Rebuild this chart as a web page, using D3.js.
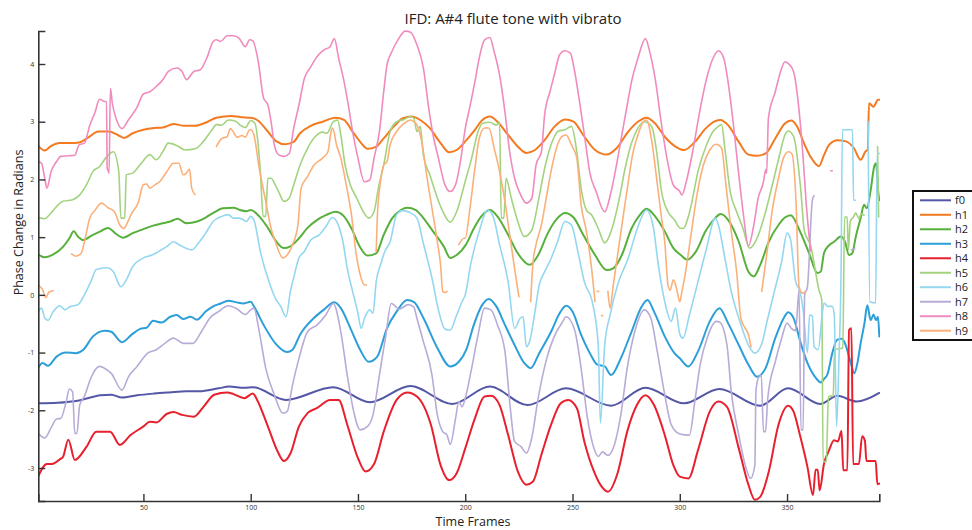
<!DOCTYPE html>
<html>
<head>
<meta charset="utf-8">
<script src="https://cdn.jsdelivr.net/npm/d3@7"></script>
<style>
  body { margin: 0; background: #fff; }
  svg { display: block; }
</style>
</head>
<body>
<svg id="chart" width="972" height="530"></svg>
<script>
// Instantaneous frequency deviation per partial, [frame, radians]; null marks a gap.
const seriesNames = ["f0", "h1", "h2", "h3", "h4", "h5", "h6", "h7", "h8", "h9"];
const seriesColors = ["#5456a6", "#f37a21", "#57b03c", "#2c9fd9", "#e8202e",
                      "#a3d37f", "#94d7f1", "#b8abd7", "#f08bbd", "#fbb07a"];

const f0 = [[1,-1.88],[10,-1.87],[20,-1.83],[30,-1.74],[35,-1.73],[40,-1.78],[47,-1.74],[55,-1.71],[62,-1.69],[70,-1.67],[76,-1.67],[85,-1.62],[90,-1.59],[97,-1.61],[101,-1.60],[116.5,-1.82],[138.5,-1.60],[155.5,-1.86],[174.5,-1.58],[194,-1.89],[211.5,-1.59],[229,-1.91],[247,-1.62],[268,-1.92],[284,-1.61],[302,-1.88],[318.5,-1.63],[337.5,-1.92],[350.5,-1.62],[365.5,-1.89],[373.5,-1.75],[382.5,-1.85],[393,-1.70]];

const h1 = [[1,2.58],[4,2.50],[7,2.58],[11,2.63],[16,2.63],[20,2.64],[24,2.72],[29,2.83],[34,2.83],[38,2.77],[41,2.72],[45,2.80],[50,2.86],[55,2.89],[59,2.90],[64,2.96],[69,2.93],[74,2.93],[80,3.00],[84,3.07],[91,3.10],[95,3.08],[100,3.07],[103,3.03],[108,2.83],[112,2.66],[116,2.61],[120,2.65],[123,2.80],[128,2.93],[133.5,3.00],[139.5,3.07],[143.5,3.03],[147.5,2.83],[151.5,2.63],[154.5,2.53],[158.5,2.57],[162,2.71],[166.5,2.91],[171,3.06],[175,3.09],[179,3.03],[183.5,2.89],[188.5,2.63],[192.5,2.47],[196,2.51],[200.5,2.68],[204.5,2.86],[208,3.03],[211.5,3.09],[215,3.00],[220,2.77],[224.5,2.57],[228.5,2.46],[232.5,2.51],[237,2.68],[241.5,2.91],[246.5,3.04],[250.5,3.00],[255,2.77],[260.5,2.51],[266,2.43],[270.5,2.54],[276,2.83],[280.5,3.00],[284.5,3.07],[288.5,2.97],[293,2.74],[298,2.57],[302,2.51],[307,2.65],[312,2.88],[316.5,3.01],[319,3.03],[322.5,2.94],[327.5,2.65],[332,2.43],[336,2.41],[340,2.45],[344.5,2.71],[349,2.97],[352,3.02],[354.5,2.93],[358,2.62],[361,2.39],[364.9,2.23],[367.2,2.42],[369.6,2.60],[373.5,2.68],[377.4,2.66],[381.2,2.54],[384.3,2.34],[386.5,2.48],[387.6,2.52],[388.2,3.32],[390.3,3.26],[392.4,3.38],[393,3.38]];

const h2 = [[1,0.70],[4,0.65],[8,0.70],[12.5,0.83],[15.5,0.98],[17.5,1.10],[19.5,1.01],[22,0.95],[26,1.03],[30,1.10],[33.5,1.16],[37.5,1.05],[40.5,0.99],[45,1.07],[50,1.14],[54.5,1.20],[59,1.24],[62.5,1.27],[66,1.32],[70,1.24],[75,1.27],[79,1.34],[83,1.43],[87,1.50],[92,1.51],[95,1.47],[98,1.45],[100,1.47],[104,1.36],[108,1.16],[112,0.92],[115.5,0.81],[118.5,0.84],[122.5,0.98],[126.5,1.16],[131,1.30],[135,1.38],[139.5,1.44],[143,1.38],[147,1.15],[150.5,0.86],[154.5,0.68],[158.5,0.72],[162,1.04],[166,1.33],[170,1.47],[173,1.51],[177,1.47],[180.5,1.33],[185,1.10],[190,0.84],[193,0.64],[196,0.69],[200.5,0.88],[204,1.15],[207.5,1.36],[211.5,1.47],[215,1.36],[220,1.04],[224.5,0.72],[230,0.52],[234,0.69],[238.5,1.07],[243,1.33],[246.5,1.42],[250.5,1.34],[255,1.04],[260.5,0.69],[266,0.43],[269,0.46],[273,0.69],[277.5,1.15],[281.5,1.39],[284.5,1.49],[288.5,1.36],[293,1.10],[297,0.81],[300.5,0.69],[303.5,0.61],[307.5,0.75],[312,1.10],[316.5,1.33],[319,1.40],[322.5,1.30],[327.5,0.92],[332,0.40],[334.5,0.32],[337.5,0.52],[341.5,0.92],[346,1.21],[349,1.34],[351.7,1.38],[356.4,1.07],[360.3,0.72],[364.1,0.38],[365.7,0.40],[367.2,0.72],[369.6,0.86],[371.9,0.92],[375.1,1.01],[377,0.92],[378.9,0.69],[380.4,0.72],[382,1.00],[384.3,1.33],[385.9,1.56],[387.2,1.50],[389,1.82],[390.6,2.22],[391.5,2.28],[392.4,1.82],[393,1.64]];

const h3 = [[1,-1.26],[3,-1.18],[5.5,-1.23],[9.5,-1.07],[14,-1.00],[18.5,-1.01],[22,-0.95],[26.5,-0.72],[32,-0.62],[35,-0.64],[40,-0.82],[44.5,-0.69],[48.5,-0.59],[51.5,-0.57],[54.5,-0.45],[58.5,-0.48],[62.5,-0.38],[65.5,-0.35],[68.5,-0.42],[72,-0.38],[75,-0.43],[79,-0.29],[82.5,-0.20],[86,-0.15],[89.5,-0.10],[93.5,-0.13],[96.5,-0.15],[100,-0.12],[101.5,-0.20],[106,-0.52],[111.5,-0.84],[117,-0.99],[119.5,-0.95],[123,-0.69],[129.5,-0.40],[134,-0.26],[139,-0.13],[142,-0.23],[146.5,-0.58],[151,-0.95],[155,-1.16],[159,-1.07],[163.5,-0.58],[168,-0.29],[173,-0.09],[176,-0.12],[180.5,-0.40],[187,-0.92],[193,-1.24],[197,-1.16],[200.5,-0.95],[204,-0.52],[208,-0.17],[211,-0.07],[214.5,-0.20],[218.5,-0.52],[223,-0.87],[227.5,-1.18],[230.5,-1.27],[234.5,-1.01],[240,-0.64],[244,-0.32],[247,-0.19],[250,-0.29],[254,-0.69],[258.5,-1.04],[261.5,-1.21],[265,-1.24],[268,-1.39],[272.5,-1.10],[277.5,-0.64],[282,-0.22],[285,-0.09],[288,-0.29],[293,-0.72],[297.5,-1.01],[300,-1.10],[304,-1.24],[308.5,-0.98],[314,-0.46],[318.5,-0.23],[322.5,-0.49],[327.5,-0.87],[332,-1.21],[336,-1.42],[340,-1.27],[344.5,-0.75],[348.5,-0.40],[350.5,-0.30],[353,-0.40],[356.4,-0.84],[359.5,-1.18],[364.1,-1.47],[365.7,-1.52],[367.2,-1.46],[368.8,-1.38],[371.1,-1.01],[373.3,-0.78],[375.6,-0.76],[377,-0.84],[379.7,-1.18],[381.3,-1.36],[382.8,-1.18],[384.3,-0.84],[386.1,-0.49],[387.4,-0.18],[389,-0.44],[390.3,-0.34],[391.5,-0.44],[392.4,-0.38],[393,-0.72]];

const h4 = [[1,-3.14],[5,-2.93],[7.5,-2.93],[11,-2.85],[12.5,-2.81],[15,-2.51],[18,-2.86],[23.5,-2.63],[28,-2.37],[34.5,-2.37],[39,-2.60],[44,-2.43],[50,-2.28],[53,-2.20],[56,-2.21],[61,-2.06],[64,-2.03],[68,-2.08],[73.5,-2.11],[78,-1.94],[83,-1.73],[89,-1.69],[92,-1.72],[97,-1.79],[101,-1.71],[103,-1.82],[108,-2.28],[112.5,-2.71],[115.5,-2.88],[118.5,-2.75],[122.5,-2.28],[126.5,-2.05],[131,-1.96],[137,-1.82],[141,-1.82],[145,-2.25],[150,-2.83],[153.5,-3.06],[157.5,-2.93],[162,-2.37],[168,-1.82],[173,-1.69],[177.5,-1.76],[184,-2.25],[188.5,-2.95],[192.5,-3.21],[196,-3.09],[200,-2.66],[204.5,-2.14],[209,-1.76],[212,-1.75],[216,-1.91],[220,-2.43],[224.5,-3.06],[228.5,-3.29],[231.5,-3.24],[235.5,-2.77],[240,-2.25],[244.5,-1.88],[248,-1.82],[252,-1.96],[255.5,-2.54],[260,-3.06],[263.5,-3.32],[266.5,-3.41],[271,-3.09],[275.5,-2.37],[280,-1.91],[284,-1.74],[288,-1.91],[293,-2.43],[297,-2.95],[300,-3.15],[304,-3.18],[308.5,-2.69],[314,-2.02],[318,-1.85],[322,-1.94],[327.5,-2.66],[332,-3.29],[335,-3.55],[337.5,-3.50],[341.5,-3.06],[346,-2.25],[350.5,-1.92],[353,-2.02],[356,-2.43],[359.5,-2.98],[362.1,-3.47],[363.3,-3.03],[364.3,-3.03],[365.2,-3.39],[367.2,-2.93],[369.5,-2.70],[371.9,-2.52],[373.7,-2.54],[375.4,-2.36],[376.2,-3.04],[378.1,-3.04],[378.9,-0.61],[380,-0.58],[380.8,-2.93],[383.5,-2.93],[385,-2.45],[386.3,-2.53],[387,-2.88],[391.3,-2.88],[392.1,-3.28],[393,-3.27]];

const h5 = [[1,1.34],[4,1.32],[6,1.38],[9.5,1.53],[12.5,1.62],[17,1.65],[20,1.72],[23.5,1.91],[26.5,2.14],[29.5,2.22],[33,2.40],[36,2.48],[38.5,2.14],[39.5,1.33],[41.3,1.33],[42,2.08],[45,2.11],[49,2.28],[53,2.43],[56,2.34],[59.5,2.51],[61.5,2.63],[65.5,2.59],[69.5,2.51],[74,2.53],[78,2.66],[82,2.86],[84,2.95],[86.5,2.94],[89.5,3.03],[93,3.01],[95,2.94],[97.5,2.90],[100,3.02],[102,2.97],[104.5,2.14],[105.8,1.36],[107,1.36],[108,2.02],[109.5,2.02],[111.5,1.90],[113,1.79],[115.5,1.62],[118,1.68],[120,1.90],[123,2.25],[126.5,2.54],[130,2.74],[133.5,2.82],[135.5,2.80],[138.5,3.00],[140.5,3.03],[142,2.77],[144,2.25],[146.5,1.90],[149.5,1.67],[152.5,1.44],[155,1.33],[157.5,1.44],[159.5,1.85],[162,2.25],[165,2.83],[168,3.00],[171.5,3.04],[174.5,3.09],[176,3.06],[177.5,2.83],[179,2.92],[180.5,2.42],[183.5,2.08],[187,1.68],[190,1.41],[193,1.26],[196,1.44],[200,1.97],[203,2.37],[206,2.83],[208,2.97],[211.5,2.99],[214.5,2.94],[216,3.00],[216.8,1.33],[218,1.33],[219,2.02],[221.5,1.67],[224.5,1.27],[227.5,1.01],[231,1.12],[234,1.61],[237,2.19],[240,2.60],[243.5,2.84],[246.5,2.86],[249.5,2.92],[252,2.48],[254,1.85],[256.5,1.47],[259,1.38],[262,1.15],[265,0.90],[268,1.10],[271.5,1.61],[274.5,2.19],[277.5,2.63],[280.5,2.89],[283.5,3.00],[287,2.91],[289,2.54],[291.5,1.79],[294.5,1.44],[297.5,1.30],[300,1.16],[301.5,1.15],[305,1.50],[308.5,2.14],[312.5,2.60],[315.5,2.83],[318,2.92],[319.5,2.95],[321,2.54],[323.5,1.79],[326.5,1.44],[329.5,1.15],[332.5,0.81],[336,0.98],[340,1.44],[343.5,1.96],[346.5,2.42],[349,2.77],[350.5,2.84],[353,2.75],[356.4,1.82],[358,1.12],[361,0.85],[364.9,0.08],[366.2,-0.10],[366.8,-2.89],[368.3,-2.89],[369.3,-1.76],[371.5,-1.75],[372.2,-0.95],[376,-0.92],[376.8,1.35],[378,1.35],[378.6,0.78],[379.5,1.28],[381,1.35],[382,1.42],[383.5,1.32],[384.5,1.40],[385.9,1.38],null,[392.2,2.57],[392.7,1.35]];

const h6 = [[1,-0.29],[2.5,-0.23],[4,-0.40],[5.5,-0.44],[8,-0.29],[11,-0.19],[13.5,-0.26],[15.5,-0.21],[19.5,-0.17],[22.5,0.00],[25.5,0.23],[28,0.44],[33,0.47],[36,0.40],[39.5,0.14],[42,0.26],[45,0.49],[50,0.64],[54,0.69],[57,0.75],[61,0.84],[64,0.92],[67,0.86],[72.5,0.78],[75.5,0.89],[79,1.07],[82.5,1.27],[86.5,1.36],[89.5,1.39],[92,1.33],[94.5,1.33],[96.5,1.30],[98,1.27],[100,1.36],[101.5,1.30],[104.5,0.75],[108.5,0.23],[111.5,-0.06],[114,-0.20],[116.5,-0.38],[118.5,0.06],[120,0.29],[122.5,0.64],[125,0.75],[128,0.95],[132,1.04],[135,1.18],[138,1.34],[140.5,1.24],[143,0.92],[145,0.46],[147.5,0.06],[150,-0.32],[151.5,-0.58],[153,-0.41],[155.5,-0.26],[157,-0.32],[158.5,0.23],[160.5,0.52],[162.5,0.75],[165,0.92],[168,1.39],[171,1.46],[174,1.43],[177.5,1.33],[180.5,0.89],[184.5,0.29],[187.5,-0.26],[190.5,-0.59],[193,-0.61],[196,-0.35],[198.5,-0.12],[200,0.00],[202.5,0.52],[206.5,1.10],[210.5,1.47],[213,1.36],[216,0.87],[220,0.23],[223,-0.58],[225.5,-0.41],[227,-0.38],[228.5,-0.90],[230,-0.81],[232.5,-0.29],[234.5,0.17],[237,0.40],[240,0.63],[243,0.92],[246.5,1.27],[249.5,1.21],[252.5,0.75],[255.5,0.23],[259.5,-0.17],[262,-0.87],[263,-2.22],[265,-0.87],[267.5,-0.35],[271,0.17],[276,0.64],[280.5,1.18],[284.5,1.47],[287.5,1.21],[290,0.52],[293,-0.12],[296,-0.46],[298,-0.23],[300,-0.68],[301.5,-0.75],[304.5,-0.35],[308.5,0.23],[312.5,0.81],[316.5,1.33],[318,1.21],[321,0.64],[324,0.06],[328,-0.46],[332,-0.87],[335,-1.01],[338,-0.87],[341,-0.41],[344.5,0.12],[347.5,0.58],[350,1.07],[351.5,0.98],[354,0.23],[356,0.06],[357.5,-0.26],[359.5,-1.00],[360.5,-0.35],[361.8,-0.37],[362.6,-0.90],[364.5,-0.95],[366.5,-0.30],[367.2,-0.14],[369,-0.20],[371.1,-0.20],[372,-0.35],[373.1,-2.28],[374.2,-1.10],[375.2,0.46],[375.8,2.86],[378,2.86],[380.5,2.86],[381,1.64],[381.8,1.64],null,[387.8,3.00],[388.6,-0.12],[391.3,-0.14],[392,2.45],[393,2.45]];

const h7 = [[1,-2.40],[4,-2.48],[7,-2.30],[9.5,-2.15],[11.5,-2.14],[14,-1.85],[15.5,-1.63],[17,-1.68],[18,-2.40],[19,-2.40],[20.3,-1.91],[22.5,-1.76],[25.5,-1.44],[29.5,-1.24],[33,-1.30],[35,-1.36],[40,-1.65],[43,-1.42],[47,-1.24],[52,-1.01],[56,-0.95],[60,-0.84],[64,-0.75],[68.5,-0.84],[73,-0.84],[77,-0.64],[81,-0.40],[85,-0.29],[89.5,-0.19],[93.5,-0.24],[97.5,-0.34],[100,-0.26],[101.5,-0.23],[104,-0.64],[107,-1.27],[111,-1.73],[115,-2.05],[117,-2.02],[119.5,-1.56],[122.5,-1.10],[126.5,-0.64],[131,-0.52],[135,-0.35],[138.5,-0.15],[142,-0.64],[145,-1.39],[148,-2.02],[151,-2.34],[154.5,-2.28],[157,-2.08],[160,-1.39],[163,-0.70],[165.5,-0.15],[167,-0.18],[169,-0.25],[173.5,-0.17],[176,-0.21],[177.5,-0.41],[180.5,-0.81],[184.5,-1.39],[187,-2.08],[189.5,-2.37],[191.5,-2.43],[193,-2.59],[195.5,-2.14],[197,-1.85],[198.5,-1.94],[200,-1.79],[203,-1.27],[206,-0.69],[209,-0.23],[212,-0.26],[215,-0.52],[218.5,-0.98],[221,-1.96],[223,-2.54],[226,-2.63],[228.5,-2.74],[231,-2.48],[234,-1.79],[238,-1.10],[241.5,-0.72],[245.5,-0.46],[247,-0.38],[251,-0.61],[254,-1.27],[257,-2.14],[260,-2.66],[262,-2.80],[264,-2.72],[266.5,-2.78],[269.5,-2.60],[272.5,-2.08],[275.5,-1.27],[279,-0.64],[283.5,-0.26],[286.5,-0.40],[289.5,-0.98],[293,-1.73],[296,-2.25],[300,-2.41],[304.5,-2.43],[307,-1.85],[309.5,-1.21],[313,-0.72],[317,-0.46],[318.5,-0.47],[322,-0.87],[324,-1.68],[327.5,-2.43],[330.5,-2.95],[333,-3.18],[335,-2.95],[335.5,-1.68],[336.5,-1.45],[338,-1.39],[339,-2.37],[340,-2.37],[341,-1.79],[344.5,-1.16],[347.5,-0.75],[350,-0.49],[352,-0.58],[354,-0.62],[355.6,0.08],[356.5,-2.34],[357.5,-2.34],[358.2,0.00],[359.5,0.14],[361.8,1.64],[362.6,1.72],null,[380,0.78],[381.5,0.80]];

const h8 = [[1,2.31],[2.5,2.28],[4,2.02],[5,1.85],[7,2.14],[9.5,2.31],[11.5,2.40],[15.5,2.41],[18,2.42],[20,2.60],[22.5,2.63],[25,2.94],[27.5,3.17],[29.5,3.39],[32,3.35],[32.8,3.35],[33.1,2.19],[33.5,2.16],[34,2.11],[34.6,3.58],[35.5,3.32],[37.5,3.03],[40,2.88],[43,3.03],[47,3.25],[50,3.48],[53,3.52],[56,3.61],[59.5,3.75],[61.5,3.87],[65.5,3.93],[68,3.87],[70,3.73],[73.5,3.87],[76.5,3.90],[79.5,4.10],[82.5,4.39],[84,4.42],[86,4.39],[89,4.49],[92,4.49],[94.5,4.45],[97.5,4.30],[99.5,4.42],[101,4.40],[103.5,4.05],[106,3.41],[108,3.29],[109.5,3.00],[111,2.60],[113,2.43],[115.5,2.40],[118,2.45],[120,2.88],[122.5,3.29],[125,3.75],[128,3.95],[131,4.13],[134,4.24],[137,4.30],[139,4.44],[141,4.10],[143.5,3.70],[145.5,3.29],[147.5,2.83],[150,2.37],[153,1.96],[155.5,1.99],[157.5,2.37],[160,2.83],[162,3.52],[163.5,3.98],[165.5,4.19],[169,4.44],[172,4.57],[174.5,4.55],[177.5,4.33],[180.5,3.93],[183,3.23],[185,2.77],[187.5,2.37],[190.5,1.91],[193,1.79],[195.5,1.91],[198,2.37],[200,2.88],[202,3.23],[204.5,3.69],[206.5,4.10],[209,4.42],[211.5,4.46],[213.5,4.21],[216,3.81],[218.5,3.17],[220.5,2.54],[223,2.02],[225.5,1.76],[228.5,1.59],[231,1.67],[233,2.25],[235.5,2.48],[237,3.12],[239.5,3.52],[241.5,3.81],[244,4.16],[246.5,4.23],[249,4.19],[251,3.87],[253.5,3.29],[256,2.65],[258,2.13],[261,1.79],[265,1.44],[268,1.79],[270.5,2.25],[273,2.77],[275.5,3.29],[277.5,3.69],[280.5,4.10],[284,4.44],[286,4.21],[288.5,3.75],[291.5,2.95],[294,2.37],[297,1.90],[300,1.79],[301,1.73],[303,1.96],[306,2.48],[309,3.12],[312.5,3.75],[315.5,4.10],[318,4.23],[320.5,4.10],[322.5,3.69],[325,2.95],[327.5,2.08],[329.5,1.44],[332,0.85],[334.5,1.21],[336.5,1.67],[339,1.96],[339.8,2.13],[340.1,2.17],[340.5,2.11],[341.3,3.06],[344.5,3.52],[347,3.87],[349,4.04],[350.5,4.01],[353,3.87],[355.5,3.23],[357.5,2.37],[359,1.55],[361,0.76],null,[370.4,2.15],[371.1,2.15]];

const h9 = [[1,0.17],[3,0.09],[4.5,-0.05],[6,0.05],[8,0.07],null,
  [16.5,0.71],[18.5,0.67],[21,0.72],[22.5,0.92],[25,1.33],[27.5,1.47],[30.5,1.59],[33.5,1.51],[36.5,1.44],[39,1.21],[41,1.15],[42,1.21],[44.5,1.41],[47.5,1.59],[50,1.91],[51.5,1.92],[53,1.85],[55.5,1.91],[57.5,1.96],[61,2.14],[64,2.28],[66.5,2.28],[68.5,2.08],[70,2.11],[71.5,2.18],[72.5,1.85],[74,1.74],null,
  [84,2.57],[86.5,2.71],[89,2.74],[90.5,2.88],[92,2.82],[93.5,2.73],[96,2.76],[97.5,2.73],[99.5,2.86],[100,2.86],[101.5,2.77],[104,2.19],[107,1.62],[109.5,1.15],[111.5,0.92],[115,0.64],[117,0.69],[119.5,0.87],[122,1.21],[123.5,1.85],[126.5,2.05],[129.5,2.25],[133.5,2.37],[136,2.48],[137.5,2.83],[138.2,2.89],[140,2.60],[142,2.37],[144.5,1.91],[147,1.38],[149,0.75],[151.5,0.29],[153,0.17],[154,0.17],null,
  [158.5,0.75],[159,1.33],[160.5,1.96],[162,2.25],[163.5,2.31],[165,2.60],[168,2.83],[171.5,2.97],[174.5,3.03],[176,3.00],[177.5,2.94],[180,2.60],[182,2.08],[184.5,1.50],[187,0.92],[188.5,0.52],[189.5,0.06],[190.5,0.04],[191.5,0.06],null,
  [197,0.87],[199.5,0.98],[200,0.98],[202,1.44],[204.5,2.19],[206.5,2.71],[209,2.89],[211,2.89],[213.5,2.54],[216,2.14],[218.5,1.62],[220.5,1.10],[223,0.46],[225,-0.03],null,
  [230.5,-0.12],[231.5,0.52],[233,0.87],[235.5,1.21],[238,1.73],[240,2.14],[242.5,2.54],[245,2.74],[247,2.77],[249.5,2.60],[252,2.37],[254,1.56],[256.5,1.10],[258.5,0.58],[260.5,-0.12],null,
  [261.5,0.06],[262.2,0.06],null,
  [263.5,-0.36],[264,-0.36],null,
  [266.5,0.06],[267.5,-0.23],[269,0.17],[271,0.69],[273.5,1.33],[276,1.96],[278,2.43],[280.5,2.77],[283,3.00],[284.5,3.03],[287,2.65],[289,2.08],[291.5,1.33],[293,0.92],[294.5,0.17],[295.5,0.08],[297,0.26],[298.5,0.11],[300,-0.12],[301,0.06],[302.5,0.35],[305,0.98],[308,1.73],[311,2.25],[314,2.51],[317,2.61],[319.5,2.54],[321.5,1.91],[324,1.10],[326.5,0.40],[328.5,-0.41],[330.5,-0.58],[332,-0.69],[333.2,-0.90],null,
  [338.2,0.06],[340.5,0.69],[343,1.44],[346,2.02],[348.3,2.37],[350.7,2.48],[352.2,2.45],[354.2,1.60],[355.6,0.14],[357.1,0.03],[358.6,0.05]];

const seriesValues = [f0, h1, h2, h3, h4, h5, h6, h7, h8, h9];
const seriesWidths = [2, 2, 2, 2, 2, 1.6, 1.6, 1.6, 1.6, 1.6];

const xTicks = [50, 100, 150, 200, 250, 300, 350];
const yTicks = [-3, -2, -1, 0, 1, 2, 3, 4];

const chartTitle = "IFD: A#4 flute tone with vibrato";
const xTitle = "Time Frames";
const yTitle = "Phase Change in Radians";

// Plot geometry
const plot = { left: 38.3, right: 879.3, top: 31, bottom: 501 };
const axisColor = "#333";
const fontFamily = "'Open Sans', 'Noto Sans', sans-serif";

const svg = d3.select("#chart");

const x = d3.scaleLinear().domain([1, 393]).range([plot.left, plot.right]);
const y = d3.scaleLinear().domain([-3.572, 4.572]).range([plot.bottom, plot.top]);

svg.append("defs").append("clipPath").attr("id", "plotClip")
  .append("rect")
  .attr("x", plot.left).attr("y", plot.top - 2)
  .attr("width", plot.right - plot.left + 1).attr("height", plot.bottom - plot.top + 2);

// Series lines
const line = d3.line()
  .defined(d => d !== null)
  .x(d => x(d[0]))
  .y(d => y(d[1]))
  .curve(d3.curveMonotoneX);

const linesG = svg.append("g").attr("clip-path", "url(#plotClip)");
seriesValues.forEach((vals, i) => {
  linesG.append("path")
    .datum(vals)
    .attr("fill", "none")
    .attr("stroke", seriesColors[i])
    .attr("stroke-width", seriesWidths[i])
    .attr("stroke-linejoin", "round")
    .attr("stroke-linecap", "round")
    .attr("d", line);
});

// Axes (ticks point inward, no box)
const xAxis = d3.axisBottom(x).tickValues(xTicks).tickSize(-7).tickPadding(4.5).tickFormat(d3.format("d"));
const yAxis = d3.axisLeft(y).tickValues(yTicks).tickSize(-7).tickPadding(4).tickFormat(d3.format("d"));

const gx = svg.append("g").attr("transform", `translate(0,${plot.bottom})`).call(xAxis);
const gy = svg.append("g").attr("transform", `translate(${plot.left},0)`).call(yAxis);

[gx, gy].forEach(g => {
  g.select(".domain").attr("stroke", axisColor).attr("stroke-width", 1.6);
  g.selectAll(".tick line").attr("stroke", axisColor).attr("stroke-width", 1.4);
  g.selectAll(".tick text")
    .attr("fill", "#333")
    .style("font-family", fontFamily)
    .style("font-size", "7px");
});
gy.selectAll(".tick text").text(d => d < 0 ? "-" + Math.abs(d) : d);

// Titles
svg.append("text")
  .attr("x", 513).attr("y", 24)
  .attr("text-anchor", "middle")
  .style("font-family", fontFamily).style("font-size", "15px")
  .attr("fill", "#222")
  .text(chartTitle);

svg.append("text")
  .attr("x", 473).attr("y", 526)
  .attr("text-anchor", "middle")
  .style("font-family", fontFamily).style("font-size", "12.5px")
  .attr("fill", "#222")
  .text(xTitle);

svg.append("text")
  .attr("transform", "translate(22.5,222.5) rotate(-90)")
  .attr("text-anchor", "middle")
  .style("font-family", fontFamily).style("font-size", "12.5px")
  .attr("fill", "#222")
  .text(yTitle);

// Legend
const legend = svg.append("g");
legend.append("rect")
  .attr("x", 913).attr("y", 191)
  .attr("width", 90).attr("height", 149)
  .attr("fill", "#fff")
  .attr("stroke", "#111").attr("stroke-width", 2);

seriesNames.forEach((name, i) => {
  const ly = 200.3 + i * 14.49;
  legend.append("line")
    .attr("x1", 920).attr("x2", 951)
    .attr("y1", ly).attr("y2", ly)
    .attr("stroke", seriesColors[i])
    .attr("stroke-width", 2);
  legend.append("text")
    .attr("x", 955).attr("y", ly)
    .attr("dy", "0.35em")
    .style("font-family", fontFamily).style("font-size", "11px")
    .attr("fill", "#222")
    .text(name);
});
</script>
</body>
</html>
